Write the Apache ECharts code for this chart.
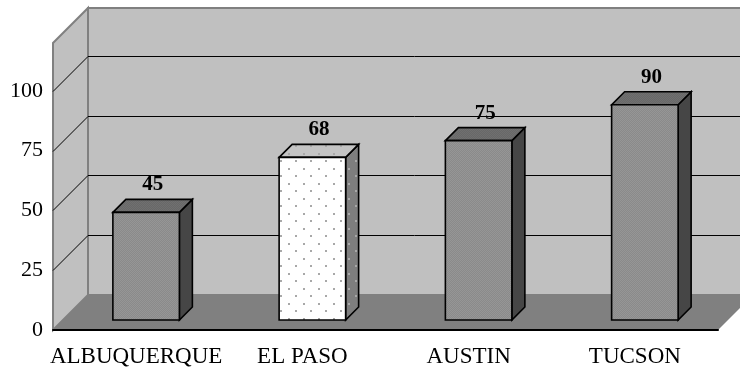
<!DOCTYPE html>
<html>
<head>
<meta charset="utf-8">
<script src="https://cdn.jsdelivr.net/npm/echarts@6/dist/echarts.min.js"></script>
<style>
  html, body { margin: 0; padding: 0; background: #fff; }
  #chart { width: 740px; height: 373px; }
</style>
</head>
<body>
<div id="chart"></div>
<script>
// data
const cities = ['ALBUQUERQUE', 'EL PASO', 'AUSTIN', 'TUCSON']
const values = [45, 68, 75, 90]
const yTicks = [25, 50, 75, 100]

const FONT = '"Liberation Serif", "DejaVu Serif", serif'
const DEPTH = 35          // wall depth, px (drawn 45deg up-right)
const BAR_FRONT = 10      // bar front face offset from front plane
const BAR_DEEP = 13       // bar depth

// small canvas tiles used as fill patterns
function makeTile (size, bg, draw) {
  const c = document.createElement('canvas')
  c.width = size; c.height = size
  const g = c.getContext('2d')
  g.fillStyle = bg
  g.fillRect(0, 0, size, size)
  draw && draw(g)
  return { type: 'pattern', image: c, repeat: 'repeat' }
}
function dither (bg, fg) {
  return makeTile(2, bg, g => {
    g.fillStyle = fg
    g.fillRect(0, 0, 1, 1); g.fillRect(1, 1, 1, 1)
  })
}
function dots (bg) {
  return makeTile(15, bg, g => {
    g.fillStyle = '#a8a8a8'
    g.fillRect(3, 3, 2, 2); g.fillRect(10, 10, 2, 2)
  })
}
const grayFaces = { front: dither('#8a8a8a', '#969696'), top: dither('#686868', '#707070'), side: '#464646' }
const dotFaces = { front: dots('#ffffff'), top: dots('#c4c4c4'), side: dots('#7e7e7e') }

const chart = echarts.init(document.getElementById('chart'))

function renderWalls (params, api) {
  const cs = params.coordSys
  const x0 = cs.x, x1 = cs.x + cs.width, y0 = cs.y, y1 = cs.y + cs.height
  const d = DEPTH
  const kids = [
    { type: 'rect', shape: { x: x0 + d, y: y0 - d, width: cs.width, height: cs.height },
      style: { fill: '#c0c0c0', stroke: '#808080', lineWidth: 2 } },
    { type: 'polygon', shape: { points: [[x0, y1], [x0, y0], [x0 + d, y0 - d], [x0 + d, y1 - d]] },
      style: { fill: '#c0c0c0', stroke: '#808080', lineWidth: 2 } },
    { type: 'polygon', shape: { points: [[x0, y1], [x1, y1], [x1 + d, y1 - d], [x0 + d, y1 - d]] },
      style: { fill: '#808080' } }
  ]
  yTicks.forEach(v => {
    const y = Math.round(api.coord([0, v])[1]) + 0.5
    kids.push({ type: 'polyline', shape: { points: [[x0, y], [x0 + d, y - d], [x1 + d, y - d]] },
      style: { stroke: '#000', lineWidth: 1, fill: null } })
  })
  return { type: 'group', children: kids }
}

function renderBar (params, api) {
  const i = api.value(0)
  const base = api.coord([i, 0])
  const top = api.coord([i, api.value(1)])
  const w = api.size([1, 0])[0] * 0.4
  const dd = BAR_DEEP
  const fx = base[0] - w / 2 + BAR_FRONT
  const fy0 = top[1] - BAR_FRONT
  const fy1 = base[1] - BAR_FRONT
  const f = cities[i] === 'EL PASO' ? dotFaces : grayFaces
  const line = { stroke: '#000', lineWidth: 1.6, lineJoin: 'miter' }
  return {
    type: 'group',
    children: [
      { type: 'polygon', shape: { points: [[fx + w, fy0], [fx + w + dd, fy0 - dd], [fx + w + dd, fy1 - dd], [fx + w, fy1]] },
        style: Object.assign({ fill: f.side }, line) },
      { type: 'polygon', shape: { points: [[fx, fy0], [fx + dd, fy0 - dd], [fx + w + dd, fy0 - dd], [fx + w, fy0]] },
        style: Object.assign({ fill: f.top }, line) },
      { type: 'rect', shape: { x: fx, y: fy0, width: w, height: fy1 - fy0 },
        style: Object.assign({ fill: f.front }, line) },
      { type: 'text',
        style: { text: String(api.value(1)), x: fx + w / 2 + dd / 2, y: fy0 - dd - 4,
          align: 'center', verticalAlign: 'bottom', fill: '#000',
          font: 'bold 21px ' + FONT } }
    ]
  }
}

const option = {
  animation: false,
  grid: { left: 53, right: 22, top: 43, bottom: 43 },
  xAxis: {
    type: 'category',
    data: cities,
    z: 10,
    axisLine: { show: true, lineStyle: { color: '#000', width: 2 } },
    axisTick: { show: false },
    axisLabel: { color: '#000', fontSize: 23, fontFamily: FONT, margin: 15, interval: 0 }
  },
  yAxis: {
    type: 'value',
    min: 0,
    max: 120,
    interval: 25,
    axisLine: { show: false },
    axisTick: { show: false },
    splitLine: { show: false },
    axisLabel: {
      color: '#000', fontSize: 22, fontFamily: FONT, margin: 10,
      formatter: v => (v > 100 ? '' : v)
    }
  },
  series: [
    { type: 'custom', clip: false, silent: true, z: 1, data: [0], renderItem: renderWalls },
    { type: 'custom', clip: false, silent: true, z: 2,
      data: values.map((v, i) => [i, v]), renderItem: renderBar }
  ]
}
chart.setOption(option)
</script>
</body>
</html>
